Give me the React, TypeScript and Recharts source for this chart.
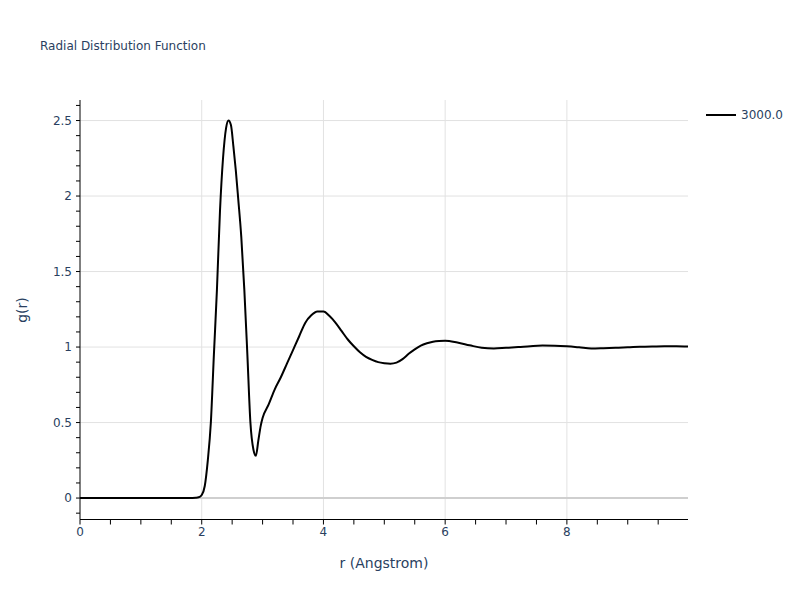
import { LineChart, Line, XAxis, YAxis, ReferenceLine } from "recharts";

const rValues = [
  0, 0.5, 1.0, 1.5, 1.8, 1.9, 1.95, 2.0, 2.05, 2.1, 2.15, 2.2, 2.25, 2.3, 2.35, 2.4, 2.44, 2.48,
  2.52, 2.56, 2.6, 2.65, 2.7, 2.75, 2.8, 2.85, 2.89, 2.93, 2.97, 3.0, 3.1, 3.2, 3.3, 3.4, 3.5,
  3.6, 3.7, 3.8, 3.9, 4.0, 4.1, 4.2, 4.3, 4.4, 4.5, 4.6, 4.7, 4.8, 4.9, 5.0, 5.1, 5.2, 5.3, 5.4,
  5.5, 5.6, 5.7, 5.8, 5.9, 6.0, 6.2, 6.4, 6.6, 6.8, 7.0, 7.2, 7.4, 7.6, 7.8, 8.0, 8.2, 8.4, 8.6,
  8.8, 9.0, 9.2, 9.4, 9.6, 9.8, 9.99,
];

const gValues = [
  0, 0, 0, 0, 0, 0.002, 0.005, 0.02, 0.08, 0.25, 0.5, 0.95, 1.38, 1.9, 2.25, 2.45, 2.5, 2.47,
  2.33, 2.17, 1.98, 1.73, 1.38, 0.95, 0.5, 0.32, 0.28, 0.38, 0.48, 0.53, 0.62, 0.72, 0.8, 0.89,
  0.98, 1.07, 1.16, 1.21, 1.235, 1.235, 1.205, 1.16, 1.105, 1.05, 1.005, 0.965, 0.935, 0.915,
  0.9, 0.893, 0.89, 0.897, 0.92, 0.955, 0.985, 1.01, 1.025, 1.035, 1.04, 1.042, 1.03, 1.012,
  0.995, 0.99, 0.995, 1.0, 1.006, 1.01, 1.009, 1.005, 0.998, 0.99, 0.992, 0.995, 0.998, 1.002,
  1.004, 1.005, 1.006, 1.003,
];

const xTicks = [0, 0.5, 1, 1.5, 2, 2.5, 3, 3.5, 4, 4.5, 5, 5.5, 6, 6.5, 7, 7.5, 8, 8.5, 9, 9.5];
const xLabelTicks = [0, 2, 4, 6, 8];
const xGrid = [2, 4, 6, 8];

const yTicks = [
  -0.1, 0, 0.1, 0.2, 0.3, 0.4, 0.5, 0.6, 0.7, 0.8, 0.9, 1, 1.1, 1.2, 1.3, 1.4, 1.5, 1.6, 1.7,
  1.8, 1.9, 2, 2.1, 2.2, 2.3, 2.4, 2.5, 2.6,
];
const yLabelTicks = [0, 0.5, 1, 1.5, 2, 2.5];
const yGrid = [0.5, 1, 1.5, 2, 2.5];

const seriesName = "3000.0";

const data = rValues.map((r, i) => ({ r, g: gValues[i] }));

const FONT = "'DejaVu Sans', sans-serif";
const TEXT = "#2a3f5f";

const isLabel = (list: number[], v: number) => list.some((t) => Math.abs(t - v) < 1e-6);

function XTick(props: any) {
  const { x, y, payload } = props;
  if (!isLabel(xLabelTicks, payload.value)) return null;
  return (
    <text x={x} y={y} dy="0.71em" textAnchor="middle" fill={TEXT} fontSize={12} fontFamily={FONT}>
      {payload.value}
    </text>
  );
}

function YTick(props: any) {
  const { x, y, payload } = props;
  if (!isLabel(yLabelTicks, payload.value)) return null;
  return (
    <text x={x} y={y} dy="0.35em" textAnchor="end" fill={TEXT} fontSize={12} fontFamily={FONT}>
      {payload.value}
    </text>
  );
}

export default function App() {
  return (
    <div style={{ position: "absolute", left: 0, top: 0, width: 800, height: 600, background: "#fff", fontFamily: FONT }}>
      <div style={{ position: "absolute", left: 40, top: 39, fontSize: 12, color: TEXT }}>
        Radial Distribution Function
      </div>

      <div style={{ position: "absolute", left: 706, top: 108, display: "flex", alignItems: "center" }}>
        <div style={{ width: 30, height: 2, background: "#000" }} />
        <span style={{ marginLeft: 5, fontSize: 12, color: TEXT }}>{seriesName}</span>
      </div>

      <div style={{ position: "absolute", left: 0, top: 300, width: 44, height: 20, transform: "rotate(-90deg)", textAlign: "center", fontSize: 14, color: TEXT, lineHeight: "20px" }}>
        g(r)
      </div>
      <div style={{ position: "absolute", left: 284, top: 553, width: 200, textAlign: "center", fontSize: 14, color: TEXT, lineHeight: "20px" }}>
        r (Angstrom)
      </div>

      <LineChart width={800} height={600} data={data} margin={{ top: 100, right: 112, bottom: 0, left: 0 }}>
        <XAxis
          dataKey="r"
          type="number"
          domain={[0, 9.99]}
          allowDataOverflow
          ticks={xTicks}
          interval={0}
          tick={<XTick />}
          tickSize={5}
          tickMargin={3}
          height={80.5}
          stroke="#000"
          axisLine={{ stroke: "#000" }}
          tickLine={{ stroke: "#000" }}
        />
        <YAxis
          type="number"
          domain={[-0.142, 2.636]}
          allowDataOverflow
          ticks={yTicks}
          interval={0}
          tick={<YTick />}
          tickSize={4}
          tickMargin={4}
          width={80}
          stroke="#000"
          axisLine={{ stroke: "#000" }}
          tickLine={{ stroke: "#000" }}
        />
        {xGrid.map((v) => (
          <ReferenceLine key={"x" + v} x={v} stroke="#e2e2e2" strokeWidth={1} />
        ))}
        {yGrid.map((v) => (
          <ReferenceLine key={"y" + v} y={v} stroke="#e2e2e2" strokeWidth={1} />
        ))}
        <ReferenceLine y={0} stroke="#cfcfcf" strokeWidth={2} />
        <Line
          type="monotone"
          dataKey="g"
          name={seriesName}
          stroke="#000"
          strokeWidth={2}
          dot={false}
          isAnimationActive={false}
        />
      </LineChart>
    </div>
  );
}
